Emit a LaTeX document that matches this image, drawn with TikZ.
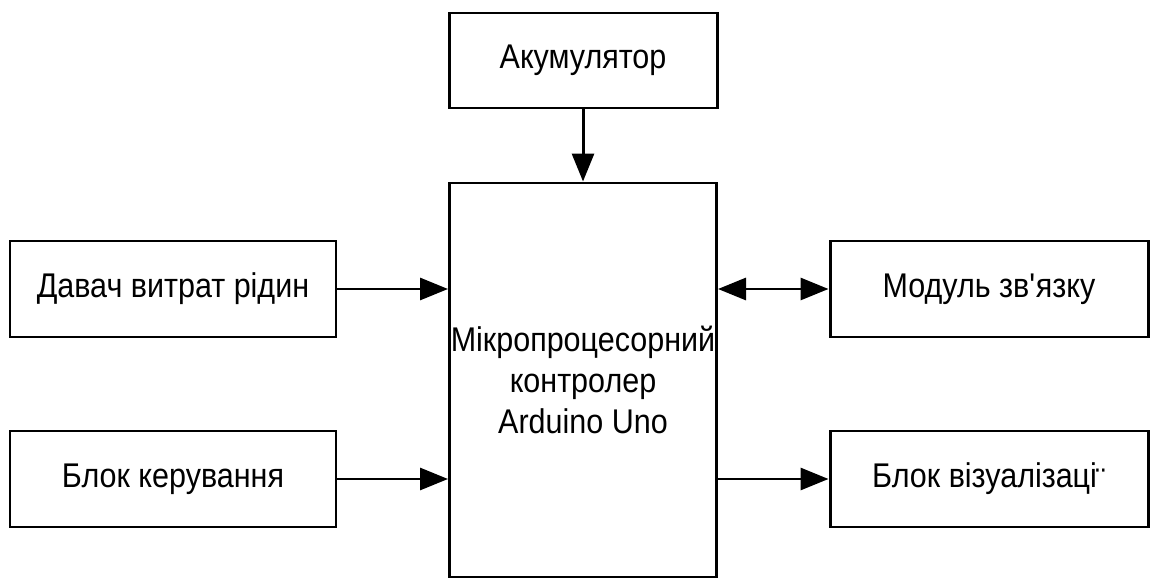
\documentclass[tikz,border=0pt]{standalone}
\usepackage{fontspec}
\setmainfont[FakeStretch=0.89]{Liberation Sans}
\usetikzlibrary{arrows.meta}

\begin{document}
\begin{tikzpicture}[
  font=\fontsize{19.5}{23.5}\selectfont,
  block/.style={draw=black,line width=1.7pt,fill=white,inner sep=0pt,align=center},
  link/.style={line width=1.7pt,-{Triangle[length=0.56cm,width=0.44cm]}}
]
\useasboundingbox (0,0) rectangle (23.04,11.66);

% Blocks of the structure
\node[block,minimum width=5.36cm,minimum height=1.9cm] (akum) at (11.66,10.45) {Акумулятор};
\node[block,minimum width=5.34cm,minimum height=7.88cm] (mcu) at (11.66,4.06)
  {Мікропроцесорний\\контролер\\Arduino Uno};
\node[block,minimum width=6.52cm,minimum height=1.92cm] (davach) at (3.46,5.88) {Давач витрат рідин};
\node[block,minimum width=6.52cm,minimum height=1.92cm] (keruv) at (3.46,2.08) {Блок керування};
\node[block,minimum width=6.36cm,minimum height=1.92cm] (modul) at (19.78,5.88) {Модуль зв\textquotesingle язку};
\node[block,minimum width=6.36cm,minimum height=1.92cm] (vizual) at (19.78,2.08)
  {Блок візуалізаці\kern-0.04em\raisebox{-0.14em}{¨}};

% Connections
\draw[link] (akum) -- (mcu);
\draw[link] (davach.east) -- (davach.east -| mcu.west);
\draw[link] (keruv.east) -- (keruv.east -| mcu.west);
\draw[link,{Triangle[length=0.56cm,width=0.44cm]}-{Triangle[length=0.56cm,width=0.44cm]}] (modul.west -| mcu.east) -- (modul.west);
\draw[link] (vizual.west -| mcu.east) -- (vizual.west);
\end{tikzpicture}
\end{document}
